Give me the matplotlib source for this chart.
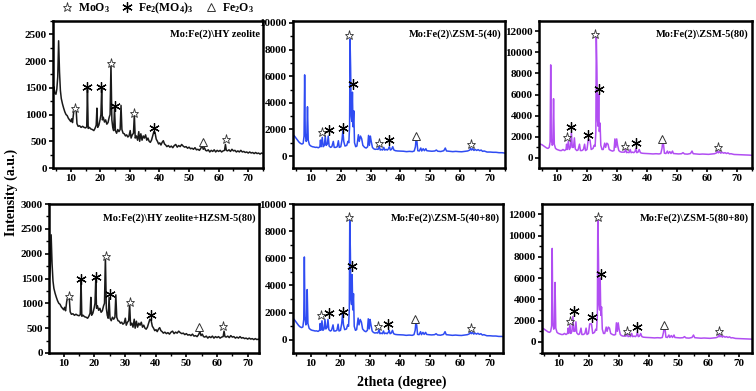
import matplotlib
matplotlib.use("Agg")
import matplotlib.pyplot as plt
from matplotlib.lines import Line2D
from matplotlib.ticker import MultipleLocator

plt.rcParams['font.family'] = ['Liberation Serif', 'DejaVu Serif']
plt.rcParams['font.weight'] = 'bold'
plt.rcParams['mathtext.fontset'] = 'custom'
plt.rcParams['mathtext.rm'] = 'Liberation Serif:bold'
plt.rcParams['mathtext.bf'] = 'Liberation Serif:bold'
plt.rcParams['mathtext.it'] = 'Liberation Serif:bold'

# ---------------- data ----------------
tt_hy = [4.0, 4.3, 4.6, 5.0, 5.3, 5.6, 5.9, 6.2, 6.5, 6.8, 7.2, 7.6, 8.0, 8.4, 8.8, 9.2, 9.6, 10.0, 10.3, 10.6,
         11.0, 11.4, 11.8, 12.1, 12.5, 13.0, 13.5, 14.0, 14.5, 15.0, 15.4, 15.65, 15.9, 16.3, 16.8, 17.3, 17.8,
         18.2, 18.6, 18.85, 19.1, 19.5, 19.9, 20.2, 20.45, 20.7, 21.0, 21.4, 21.8, 22.2, 22.6, 23.0, 23.3, 23.6,
         23.9, 24.2, 24.5, 24.8, 25.1, 25.5, 25.9, 26.3, 26.7, 27.0, 27.3, 27.7, 28.1, 28.5, 28.9, 29.3, 29.7,
         30.1, 30.4, 30.8, 31.2, 31.5, 31.8, 32.2, 32.6, 33.0, 33.3, 33.7, 34.1, 34.5, 34.9, 35.3, 35.7, 36.1,
         36.5, 36.9, 37.3, 37.7, 38.1, 38.5, 38.9, 39.3, 39.7, 40.1, 40.5, 40.9, 41.3, 41.7, 42.1, 42.5, 43.0,
         43.5, 44.0, 44.5, 45.0, 45.5, 46.0, 46.5, 47.0, 47.5, 48.0, 48.5, 49.0, 49.5, 50.0, 50.5, 51.0, 51.5,
         52.0, 52.5, 53.0, 53.5, 54.0, 54.4, 54.8, 55.2, 55.6, 56.0, 56.5, 57.0, 57.5, 58.0, 58.5, 59.0, 59.5,
         60.0, 60.5, 61.0, 61.5, 62.0, 62.3, 62.6, 63.0, 63.5, 64.0, 64.5, 65.0, 65.5, 66.0, 66.5, 67.0, 67.5,
         68.0, 68.5, 69.0, 69.5, 70.0, 70.5, 71.0, 71.5, 72.0, 72.5, 73.0, 73.5, 74.0, 74.5, 75.0]
int_hy = [1450, 1520, 1400, 1380, 1480, 1700, 2380, 1800, 1450, 1300, 1200, 1120, 1050, 1000, 980, 930, 900, 870, 920, 850,
          1050, 1130, 1120, 830, 780, 790, 760, 780, 760, 750, 770, 1480, 740, 760, 730, 720, 700,
          740, 800, 1120, 760, 800, 900, 1000, 1480, 900, 950, 860, 900, 820, 850, 950, 1000, 1950,
          900, 760, 700, 1120, 700, 650, 720, 680, 720, 1170, 720, 650, 640, 600, 620, 580, 600,
          700, 560, 620, 650, 1000, 560, 600, 520, 680, 500, 640, 520, 600, 560, 620, 520, 560,
          500, 480, 520, 600, 680, 660, 540, 500, 450, 470, 430, 480, 510, 450, 430, 400, 420,
          390, 410, 380, 420, 440, 390, 420, 400, 440, 410, 390, 400, 370, 390, 360, 370, 350,
          380, 340, 350, 330, 370, 430, 350, 380, 330, 320, 340, 300, 330, 310, 340, 300, 330,
          310, 330, 300, 320, 330, 440, 330, 320, 340, 310, 350, 320, 330, 300, 320, 300, 330,
          300, 310, 290, 300, 280, 300, 280, 290, 270, 290, 270, 280, 260, 280, 270]
int_hy_hzsm = list(int_hy)

tt_zsm = [4.0, 4.5, 5.0, 5.5, 6.0, 6.5, 7.0, 7.4, 7.7, 7.9, 8.1, 8.4, 8.6, 8.85, 9.1, 9.5, 10.0, 10.5, 11.0, 11.5,
          12.0, 12.5, 13.0, 13.2, 13.4, 13.8, 14.1, 14.5, 14.8, 15.1, 15.5, 15.8, 16.1, 16.6, 17.0, 17.5, 17.8,
          18.3, 18.8, 19.2, 19.5, 20.0, 20.4, 20.7, 21.0, 21.4, 22.0, 22.4, 22.7, 22.95, 23.1, 23.3, 23.5, 23.7,
          23.9, 24.1, 24.35, 24.6, 25.0, 25.4, 25.9, 26.2, 26.6, 27.0, 27.4, 28.0, 28.5, 29.0, 29.3, 29.6, 29.9,
          30.2, 30.6, 31.0, 31.5, 32.0, 32.5, 32.9, 33.2, 33.6, 34.0, 34.4, 34.7, 35.2, 35.6, 36.0, 36.3, 36.6,
          37.0, 37.4, 37.8, 38.3, 39.0, 40.0, 41.0, 42.0, 43.0, 44.0, 44.6, 45.0, 45.2, 45.5, 45.8, 46.3, 46.8,
          47.1, 47.6, 48.0, 48.5, 48.8, 49.5, 50.5, 51.5, 52.0, 52.5, 53.5, 54.5, 55.0, 55.4, 56.5, 57.5, 58.5,
          59.5, 60.5, 61.5, 62.5, 63.2, 63.5, 63.8, 64.2, 64.6, 65.0, 65.5, 66.0, 66.5, 67.0, 67.5, 68.0, 69.0,
          70.0, 71.0, 72.0, 73.0, 74.0, 75.0]
int_zsm40 = [1600, 1500, 1350, 1200, 1050, 950, 900, 950, 1500, 6100, 1700, 1100, 1200, 3700, 1200, 850, 750, 700, 680, 650,
             660, 620, 700, 1200, 700, 1400, 700, 800, 1500, 800, 900, 1500, 750, 650, 700, 1100, 650,
             650, 700, 1150, 650, 700, 1200, 1900, 1100, 750, 800, 1100, 1000, 2200, 8800, 6600, 3000, 2600,
             4800, 2200, 3400, 1000, 700, 750, 1600, 1100, 1500, 1300, 800, 650, 600, 700, 1550, 800, 1500,
             1100, 650, 550, 500, 520, 500, 750, 450, 500, 450, 650, 450, 500, 450, 550, 700, 450,
             500, 700, 450, 400, 380, 370, 360, 330, 350, 330, 380, 700, 1200, 1100, 400, 380, 600,
             380, 550, 400, 550, 400, 380, 360, 380, 450, 360, 340, 400, 600, 380, 350, 330, 350,
             330, 320, 350, 380, 450, 580, 450, 550, 420, 500, 420, 480, 400, 450, 350, 380, 300,
             300, 280, 280, 250, 250, 220]
int_zsm4080 = list(int_zsm40)
int_zsm80 = [1400, 1300, 1250, 1150, 1050, 950, 900, 1000, 1500, 8800, 1800, 1200, 1300, 5600, 1300, 900, 800, 750, 700, 700,
             800, 700, 800, 1300, 800, 1600, 800, 1000, 2400, 1000, 1000, 1900, 850, 700, 750, 1300, 700,
             700, 800, 1300, 700, 800, 1700, 1700, 1700, 800, 900, 1200, 1100, 2500, 11500, 8500, 3500, 3000,
             6000, 2500, 3300, 1200, 800, 800, 1400, 1000, 1400, 1300, 800, 700, 650, 700, 1800, 1000, 1800,
             1200, 700, 600, 550, 550, 550, 800, 500, 550, 500, 800, 500, 550, 500, 600, 900, 500,
             550, 800, 500, 450, 430, 420, 400, 380, 400, 380, 420, 900, 1400, 1300, 450, 420, 650,
             420, 600, 420, 650, 420, 400, 380, 400, 500, 380, 360, 420, 650, 400, 370, 350, 370,
             350, 340, 370, 400, 480, 700, 480, 600, 450, 550, 450, 500, 420, 480, 380, 400, 330,
             320, 300, 300, 280, 270, 250]
int_zsm8080 = list(int_zsm80)

panel_titles = ["Mo:Fe(2)\\HY zeolite", "Mo:Fe(2)\\ZSM-5(40)", "Mo:Fe(2)\\ZSM-5(80)",
                "Mo:Fe(2)\\HY zeolite+HZSM-5(80)", "Mo:Fe(2)\\ZSM-5(40+80)", "Mo:Fe(2)\\ZSM-5(80+80)"]
x_ticks = [10, 20, 30, 40, 50, 60, 70]

# peak markers: (kind, 2theta, intensity) ; s=MoO3 star, a=Fe2(MoO4)3 asterisk, t=Fe2O3 triangle
marks_hy = [('s', 11.3, 1125), ('a', 15.5, 1510), ('a', 20.3, 1510), ('s', 23.6, 1965), ('a', 25.0, 1160),
            ('s', 31.4, 1020), ('a', 38.3, 740), ('t', 54.8, 480), ('s', 62.4, 535)]
marks_zsm40 = [('s', 13.6, 1770), ('a', 16.0, 1970), ('a', 20.6, 2100), ('s', 22.9, 9080), ('a', 24.1, 5390),
               ('s', 32.8, 970), ('a', 36.2, 1170), ('t', 45.2, 1520), ('s', 63.6, 900)]
marks_zsm80 = [('s', 13.3, 1940), ('a', 14.7, 2920), ('a', 20.2, 2200), ('s', 22.8, 11750), ('a', 23.9, 6500),
               ('s', 32.5, 1090), ('a', 36.3, 1410), ('t', 44.9, 1820), ('s', 63.5, 1000)]
marks_hy_hzsm = [('s', 11.7, 1150), ('a', 15.8, 1500), ('a', 20.5, 1535), ('s', 23.8, 1960), ('a', 25.0, 1186),
                 ('s', 31.5, 1030), ('a', 38.4, 760), ('t', 54.0, 525), ('s', 62.0, 545)]
marks_zsm4080 = [('s', 13.6, 1840), ('a', 16.0, 1960), ('a', 20.8, 2040), ('s', 22.9, 9040), ('a', 24.0, 5440),
                 ('s', 32.7, 1040), ('a', 36.0, 1170), ('t', 45.1, 1520), ('s', 63.8, 890)]
marks_zsm8080 = [('s', 13.7, 2010), ('a', 15.1, 2890), ('a', 21.0, 2330), ('s', 23.2, 11720), ('a', 24.3, 6420),
                 ('s', 32.8, 1000), ('a', 36.2, 1380), ('t', 45.2, 1630), ('s', 63.5, 1070)]

# ---------------- figure ----------------
W, H = 756, 391
fig = plt.figure(figsize=(W / 100, H / 100), dpi=100)

def rect(x0, x1, y0, y1):
    return [x0 / W, 1 - y1 / H, (x1 - x0) / W, (y1 - y0) / H]

BLACK = '#1a1a1a'
BLUE = '#2f4cf2'
PURPLE = '#b14ef2'

panels = [
    (rect(53, 263, 21, 168), tt_hy, int_hy, BLACK, (4, 75), (0, 2750), 500, 250, marks_hy),
    (rect(293, 505, 21, 168), tt_zsm, int_zsm40, BLUE, (4, 75), (-900, 10150), 2000, 1000, marks_zsm40),
    (rect(539, 752, 21, 168), tt_zsm, int_zsm80, PURPLE, (4, 75), (-950, 12950), 2000, 1000, marks_zsm80),
    (rect(49, 259, 204, 353), tt_hy, int_hy_hzsm, BLACK, (5.2, 73.7), (0, 3000), 500, 250, marks_hy_hzsm),
    (rect(293, 503, 204, 353), tt_zsm, int_zsm4080, BLUE, (4.1, 74.4), (-970, 10000), 2000, 1000, marks_zsm4080),
    (rect(542, 752, 204, 353), tt_zsm, int_zsm8080, PURPLE, (4.5, 74.5), (-1040, 12980), 2000, 1000, marks_zsm8080),
]

marker_style = {
    's': dict(marker='*', markersize=6.5, markerfacecolor='white', markeredgecolor='#333333', markeredgewidth=0.6),
    'a': dict(marker=(6, 2, 0), markersize=7.5, color='black', markeredgewidth=0.9),
    't': dict(marker='^', markersize=5.5, markerfacecolor='white', markeredgecolor='#333333', markeredgewidth=0.7),
}

for i, (pos, xs, ys, col, xl, yl, ymaj, ymin, marks) in enumerate(panels):
    ax = fig.add_axes(pos)
    ax.plot(xs, ys, color=col, lw=1.1)
    for kind, mx, my in marks:
        ax.plot([mx], [my], linestyle='none', **marker_style[kind])
    ax.set_xlim(*xl)
    ax.set_ylim(*yl)
    ax.set_xticks(x_ticks)
    ax.xaxis.set_minor_locator(MultipleLocator(5))
    ax.yaxis.set_major_locator(MultipleLocator(ymaj))
    ax.yaxis.set_minor_locator(MultipleLocator(ymin))
    if yl[0] < 0:
        ax.set_yticks([t for t in ax.get_yticks() if 0 <= t <= yl[1]])
    ax.tick_params(which='major', direction='out', length=3, width=1.2, labelsize=8, pad=1.5)
    ax.tick_params(which='minor', direction='out', length=2, width=1.0)
    for lab in ax.get_xticklabels() + ax.get_yticklabels():
        lab.set_fontweight('bold')
    for sp in ax.spines.values():
        sp.set_linewidth(1.8)
    ax.text(0.985, 0.94, panel_titles[i], transform=ax.transAxes, ha='right', va='top',
            fontsize=7.5, fontweight='bold')

# legend
handles = [
    Line2D([], [], linestyle='none', **marker_style['s']),
    Line2D([], [], linestyle='none', **marker_style['a']),
    Line2D([], [], linestyle='none', **marker_style['t']),
]
labels = ['MoO$_3$', 'Fe$_2$(MO$_4$)$_3$', 'Fe$_2$O$_3$']
fig.legend(handles, labels, loc='center', bbox_to_anchor=(158 / W, 1 - 8 / H), ncol=3, frameon=False,
           prop={'weight': 'bold', 'size': 8.5}, handlelength=0.8, handletextpad=0.5, columnspacing=1.1,
           borderpad=0)

fig.text(11 / W, 1 - 192 / H, 'Intensity (a.u.)', rotation=90, ha='center', va='center',
         fontsize=10, fontweight='bold')
fig.text(402 / W, 1 - 382 / H, '2theta (degree)', ha='center', va='center', fontsize=10, fontweight='bold')

fig.savefig('out.png', dpi=100)
